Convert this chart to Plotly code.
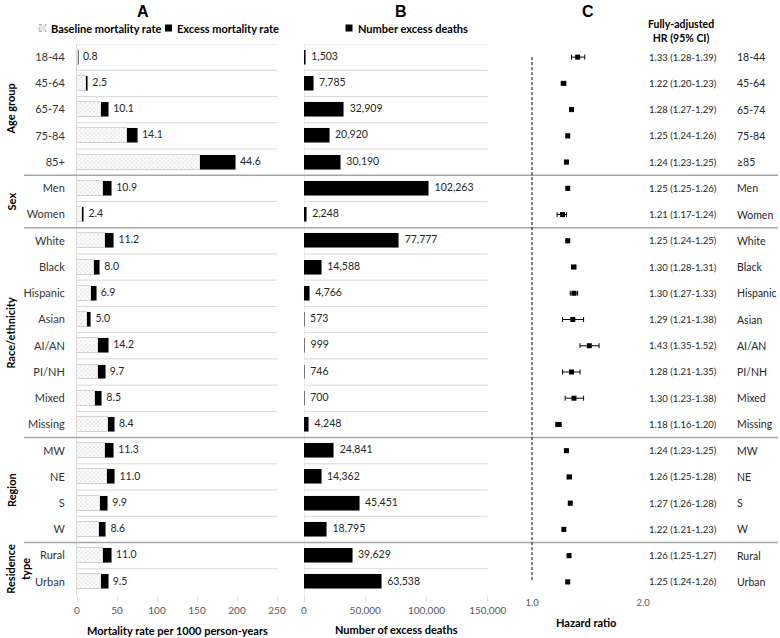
import math
import plotly.graph_objects as go

# ---------------- data ----------------
categories = ["18-44", "45-64", "65-74", "75-84", "85+", "Men", "Women", "White", "Black",
              "Hispanic", "Asian", "AI/AN", "PI/NH", "Mixed", "Missing", "MW", "NE", "S", "W",
              "Rural", "Urban"]
hr_labels = ["18-44", "45-64", "65-74", "75-84", "≥85", "Men", "Women", "White", "Black",
             "Hispanic", "Asian", "AI/AN", "PI/NH", "Mixed", "Missing", "MW", "NE", "S", "W",
             "Rural", "Urban"]
groups = ["Age group", "Sex", "Race/ethnicity", "Region", "Residence<br>type"]
group_rows = [(0, 4), (5, 6), (7, 14), (15, 18), (19, 20)]

baseline_rate = [1.5, 11.5, 30, 62, 154, 33, 6.7, 35.4, 21, 17.5, 13, 26, 26, 23, 39,
                 35, 37, 29, 28, 32.5, 30]
excess_rate = [0.8, 2.5, 10.1, 14.1, 44.6, 10.9, 2.4, 11.2, 8.0, 6.9, 5.0, 14.2, 9.7, 8.5,
               8.4, 11.3, 11.0, 9.9, 8.6, 11.0, 9.5]
excess_deaths = [1503, 7785, 32909, 20920, 30190, 102263, 2248, 77777, 14588, 4766, 573,
                 999, 746, 700, 4248, 24841, 14362, 45451, 18795, 39629, 63538]
hr = [1.33, 1.22, 1.28, 1.25, 1.24, 1.25, 1.21, 1.25, 1.30, 1.30, 1.29, 1.43, 1.28, 1.30,
      1.18, 1.24, 1.26, 1.27, 1.22, 1.26, 1.25]
hr_lo = [1.28, 1.20, 1.27, 1.24, 1.23, 1.25, 1.17, 1.24, 1.28, 1.27, 1.21, 1.35, 1.21, 1.23,
         1.16, 1.23, 1.25, 1.26, 1.21, 1.25, 1.24]
hr_hi = [1.39, 1.23, 1.29, 1.26, 1.25, 1.26, 1.24, 1.25, 1.31, 1.33, 1.38, 1.52, 1.35, 1.38,
         1.20, 1.25, 1.28, 1.28, 1.23, 1.27, 1.26]

rate_ticks = [0, 50, 100, 150, 200, 250]
death_ticks = [0, 50000, 100000, 150000]
hr_ticks = [1.0, 2.0]
hr_ticktext = ["1.0", "2.0"]

# ---------------- geometry helpers ----------------
W, H = 780, 638
ML, MR, MT, MB = 0, 0, 44, 43
PW, PH = W - ML - MR, H - MT - MB


def px(x):
    return (x - ML) / PW


def py(y):
    return (H - MB - y) / PH


FONT = "Lato"
rows = list(range(len(categories)))
totals = [b + e for b, e in zip(baseline_rate, excess_rate)]
separators = [4.5, 6.5, 14.5, 18.5]

fig = go.Figure()

# Panel A
fig.add_trace(go.Bar(
    y=rows, x=baseline_rate, orientation="h", xaxis="x", yaxis="y", width=0.57,
    name="Baseline mortality rate",
    marker=dict(color="white", line=dict(color="#b8b8b8", width=0.6),
                pattern=dict(shape="x", fgcolor="#a8a8a8", bgcolor="white", size=3, solidity=0.3)),
    showlegend=False))
fig.add_trace(go.Bar(
    y=rows, x=excess_rate, orientation="h", xaxis="x", yaxis="y", width=0.57,
    name="Excess mortality rate", marker=dict(color="black"), showlegend=False))
fig.add_trace(go.Scatter(
    y=rows, x=totals, mode="markers+text", xaxis="x", yaxis="y",
    marker=dict(size=5, color="rgba(0,0,0,0)"),
    text=[f"{v:.1f}" for v in excess_rate], textposition="middle right",
    textfont=dict(family=FONT, size=10.5, color="#262626"), showlegend=False, hoverinfo="skip"))

# Panel B
fig.add_trace(go.Bar(
    y=rows, x=excess_deaths, orientation="h", xaxis="x2", yaxis="y", width=0.57,
    name="Number excess deaths", marker=dict(color="black"), showlegend=False))
fig.add_trace(go.Scatter(
    y=rows, x=excess_deaths, mode="markers+text", xaxis="x2", yaxis="y",
    marker=dict(size=7, color="rgba(0,0,0,0)"),
    text=[f"{v:,}" for v in excess_deaths], textposition="middle right",
    textfont=dict(family=FONT, size=10.5, color="#262626"), showlegend=False, hoverinfo="skip"))

# Panel C
fig.add_trace(go.Scatter(
    y=rows, x=hr, mode="markers", xaxis="x3", yaxis="y",
    marker=dict(symbol="square", size=5, color="black"),
    error_x=dict(type="data", symmetric=False,
                 array=[h - m for h, m in zip(hr_hi, hr)],
                 arrayminus=[m - l for m, l in zip(hr, hr_lo)],
                 color="black", thickness=1, width=2.5),
    showlegend=False))

# ---------------- shapes ----------------
shapes = []
for b in [r - 0.5 for r in rows]:
    if b in separators:
        continue
    for xr in ["x domain", "x2 domain"]:
        shapes.append(dict(type="line", xref=xr, yref="y", x0=0, x1=1, y0=b, y1=b,
                           line=dict(color="#d9d9d9", width=1), layer="below"))
for s in separators:
    shapes.append(dict(type="line", xref="paper", yref="y", x0=px(24), x1=px(778), y0=s, y1=s,
                       line=dict(color="#a6a6a6", width=1.5)))
# B axis line
shapes.append(dict(type="line", xref="x2", yref="y domain", x0=0, x1=0, y0=0, y1=1,
                   line=dict(color="#d9d9d9", width=1), layer="below"))
# reference line HR = 1
shapes.append(dict(type="line", xref="x3", yref="y", x0=1, x1=1, y0=rows[0], y1=rows[-1],
                   line=dict(color="black", width=1, dash="3px,2px")))


def swatch(x0, x1, y0, y1, fill, line):
    shapes.append(dict(type="rect", xref="paper", yref="paper", x0=px(x0), x1=px(x1),
                       y0=py(y1), y1=py(y0), fillcolor=fill, line=line))


swatch(39, 46, 24.5, 31.5, "#e4e4e4", dict(color="#9a9a9a", width=0.8, dash="dot"))
swatch(165, 172, 24.5, 31.5, "black", dict(width=0))
swatch(345.5, 352.5, 24.5, 31.5, "black", dict(width=0))

# ---------------- annotations ----------------
ann = []


def text(x, y, t, size=11, bold=False, anchor="center", color="#262626", family=FONT, angle=0):
    ann.append(dict(xref="paper", yref="paper", x=px(x), y=py(y), text=f"<b>{t}</b>" if bold else t,
                    showarrow=False, xanchor=anchor, yanchor="middle", textangle=angle,
                    font=dict(family=family, size=size, color=color)))


text(143, 11, "A", size=16, bold=True, family="Liberation Sans", color="black")
text(401, 11, "B", size=16, bold=True, family="Liberation Sans", color="black")
text(588, 11, "C", size=16, bold=True, family="Liberation Sans", color="black")
text(49, 28, "Baseline mortality rate", size=11, bold=True, anchor="left", color="black")
text(175, 28, "Excess mortality rate", size=11, bold=True, anchor="left", color="black")
text(356, 28, "Number excess deaths", size=11, bold=True, anchor="left", color="black")
ann.append(dict(xref="paper", yref="paper", x=px(681), y=py(31), text="<b>Fully-adjusted<br>HR (95% CI)</b>",
                showarrow=False, xanchor="center", yanchor="middle",
                font=dict(family=FONT, size=10.5, color="black")))
text(177, 630, "Mortality rate per 1000 person-years", size=11, bold=True, color="black")
text(396, 629, "Number of excess deaths", size=11, bold=True, color="black")
text(586, 622, "Hazard ratio", size=11, bold=True, color="black")

for g, (r0, r1) in zip(groups, group_rows):
    yc = (r0 + r1) / 2
    ann.append(dict(xref="paper", yref="y", x=px(18 if "<br>" in g else 11), y=yc, text=f"<b>{g}</b>",
                    showarrow=False, textangle=-90, xanchor="center", yanchor="middle",
                    font=dict(family=FONT, size=11, color="black")))

for i in rows:
    ann.append(dict(xref="paper", yref="y", x=px(647), y=i, showarrow=False, xanchor="left",
                    yanchor="middle", text=f"{hr[i]:.2f} ({hr_lo[i]:.2f}-{hr_hi[i]:.2f})",
                    font=dict(family=FONT, size=9.5, color="#262626")))
    ann.append(dict(xref="paper", yref="y", x=px(735), y=i, showarrow=False, xanchor="left",
                    yanchor="middle", text=hr_labels[i],
                    font=dict(family=FONT, size=10.5, color="#262626")))

lg_left = -(532 - 505) / (111 / math.log10(2))
lg_right = lg_left + 270 / (111 / math.log10(2))

tickfont = dict(family=FONT, size=10, color="#595959")
fig.update_layout(
    width=W, height=H, margin=dict(l=ML, r=MR, t=MT, b=MB),
    paper_bgcolor="white", plot_bgcolor="white", barmode="stack", bargap=0,
    showlegend=False, shapes=shapes, annotations=ann,
    xaxis=dict(domain=[px(77), px(277)], range=[0, 250], tickvals=rate_ticks, anchor="y",
               showgrid=False, zeroline=False, showline=False, ticks="outside", ticklen=6,
               tickcolor="#e0e0e0", tickfont=tickfont, automargin=False),
    xaxis2=dict(domain=[px(304), px(487.7)], range=[0, 150000], tickvals=death_ticks,
                tickformat=",", anchor="y", showgrid=False, zeroline=False, showline=False,
                ticks="outside", ticklen=6, tickcolor="#e0e0e0", tickfont=tickfont, automargin=False),
    xaxis3=dict(domain=[px(505), px(775)], type="log", range=[lg_left, lg_right], tickvals=hr_ticks,
                ticktext=hr_ticktext, anchor="y", showgrid=False, zeroline=False, showline=False,
                ticks="", tickfont=dict(family=FONT, size=9.5, color="#595959"), automargin=False),
    yaxis=dict(domain=[0, 1], range=[len(categories) - 0.5, -0.5], tickvals=rows, ticktext=categories,
               showgrid=False, zeroline=False, showline=True, linecolor="#d9d9d9", linewidth=1,
               ticks="outside", ticklen=9, tickcolor="rgba(0,0,0,0)",
               tickfont=dict(family=FONT, size=11, color="#333333"), automargin=False),
)

fig.write_html("out.html", config={"displayModeBar": False},
               post_script="document.body.style.margin='0';document.body.style.overflow='hidden';")
